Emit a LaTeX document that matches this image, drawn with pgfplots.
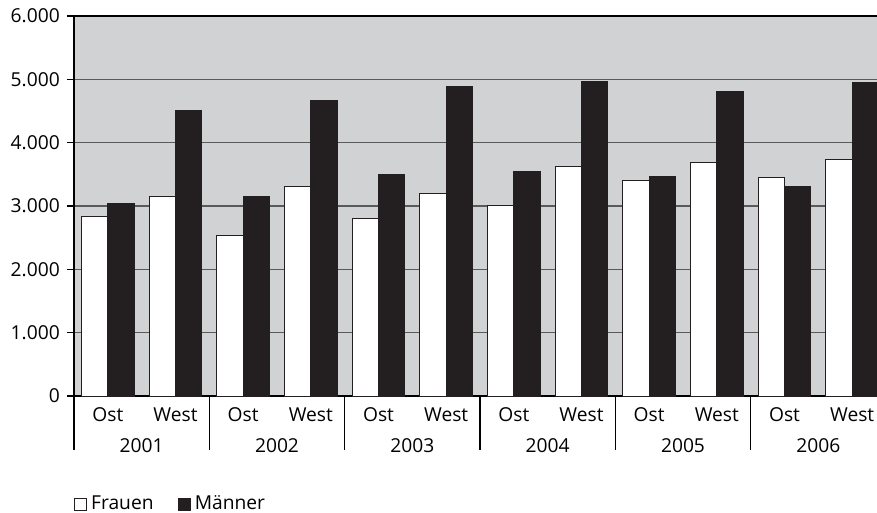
\documentclass[border=0pt]{standalone}
\usepackage{fontspec}
\setmainfont{Open Sans}
\usepackage{pgfplots}
\usepackage{pgfplotstable}
\pgfplotsset{compat=1.18}
\definecolor{bg}{HTML}{D1D2D4}
\definecolor{barblack}{HTML}{231F20}
\definecolor{gridc}{HTML}{5A5A5A}

\pgfplotstableread{
x frauen maenner
0 2840 3040
1 3150 4510
2 2540 3150
3 3300 4660
4 2800 3500
5 3200 4880
6 3000 3540
7 3620 4970
8 3400 3470
9 3680 4800
10 3450 3300
11 3730 4950
}\datatable

\begin{document}
\begin{tikzpicture}[font=\fontsize{9.6}{11.5}\selectfont]
\begin{axis}[
  scale only axis, width=406pt, height=190pt,
  xmin=-0.5, xmax=11.5, ymin=0, ymax=6000,
  axis background/.style={fill=bg},
  ybar=0pt, bar width=0.39,
  ytick={0,1000,2000,3000,4000,5000,6000},
  yticklabels={0,1.000,2.000,3.000,4.000,5.000,6.000},
  ymajorgrids, grid style={gridc, line width=0.6pt},
  xtick=\empty,
  minor xtick={0.5,2.5,4.5,6.5,8.5,10.5},
  minor tick length=3.6pt,
  major tick length=3.6pt,
  extra x ticks={-0.5,1.5,3.5,5.5,7.5,9.5,11.5},
  extra x tick labels={},
  extra x tick style={major tick length=27pt, grid=none},
  tick align=outside,
  tick pos=left,
  tick style={black, line width=0.6pt},
  axis line style={black, line width=0.6pt},
  clip=false,
  legend columns=2,
  legend style={at={(0,0)}, anchor=west, yshift=-54pt, draw=none, fill=none,
    inner sep=0pt, outer sep=0pt,
    nodes={inner sep=0pt},
    /tikz/every even column/.append style={column sep=12pt},
    font=\fontsize{9.6}{11.5}\selectfont},
  legend image code/.code={\draw[#1, line width=0.4pt] (0pt,-3pt) rectangle (6pt,3pt);},
]
\addplot[fill=white, draw=barblack, line width=0.5pt] table[x=x, y=frauen] {\datatable};
\addplot[fill=barblack, draw=barblack, line width=0.5pt] table[x=x, y=maenner] {\datatable};
\legend{\hspace*{2.2pt}Frauen, \hspace*{2.2pt}Männer}
\node at (axis cs:0,0) [yshift=-9.5pt] {Ost};
\node at (axis cs:1,0) [yshift=-9.5pt] {West};
\node at (axis cs:2,0) [yshift=-9.5pt] {Ost};
\node at (axis cs:3,0) [yshift=-9.5pt] {West};
\node at (axis cs:4,0) [yshift=-9.5pt] {Ost};
\node at (axis cs:5,0) [yshift=-9.5pt] {West};
\node at (axis cs:6,0) [yshift=-9.5pt] {Ost};
\node at (axis cs:7,0) [yshift=-9.5pt] {West};
\node at (axis cs:8,0) [yshift=-9.5pt] {Ost};
\node at (axis cs:9,0) [yshift=-9.5pt] {West};
\node at (axis cs:10,0) [yshift=-9.5pt] {Ost};
\node at (axis cs:11,0) [yshift=-9.5pt] {West};
\node at (axis cs:0.5,0) [yshift=-24.85pt] {2001};
\node at (axis cs:2.5,0) [yshift=-24.85pt] {2002};
\node at (axis cs:4.5,0) [yshift=-24.85pt] {2003};
\node at (axis cs:6.5,0) [yshift=-24.85pt] {2004};
\node at (axis cs:8.5,0) [yshift=-24.85pt] {2005};
\node at (axis cs:10.5,0) [yshift=-24.85pt] {2006};
\end{axis}
\pgfresetboundingbox
\useasboundingbox ([xshift=-37pt,yshift=-58.5pt]current axis.south west) rectangle ([xshift=401.5pt,yshift=8pt]current axis.north west);
\end{tikzpicture}
\end{document}
